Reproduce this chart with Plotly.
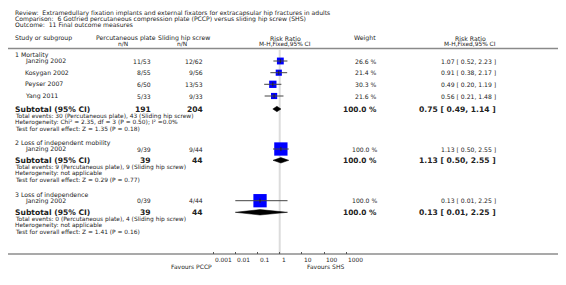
import math
import plotly.graph_objects as go

W, H = 566, 285

# ---------------- data ----------------
title_lines = [
    "Review:  Extramedullary fixation implants and external fixators for extracapsular hip fractures in adults",
    "Comparison:  6 Gotfried percutaneous compression plate (PCCP) versus sliding hip screw (SHS)",
    "Outcome:  11 Final outcome measures",
]
groups = ["1 Mortality", "2 Loss of independent mobility", "3 Loss of independence"]
studies = [
    ["Janzing 2002", "Kosygan 2002", "Peyser 2007", "Yang 2011"],
    ["Janzing 2002"],
    ["Janzing 2002"],
]
pccp_nN = [["11/53", "8/55", "6/50", "5/33"], ["9/39"], ["0/39"]]
shs_nN = [["12/62", "9/56", "13/53", "9/33"], ["9/44"], ["4/44"]]
weights = [[26.6, 21.4, 30.3, 21.6], [100.0], [100.0]]
rr = [[1.07, 0.91, 0.49, 0.56], [1.13], [0.13]]
rr_lo = [[0.52, 0.38, 0.20, 0.21], [0.50], [0.01]]
rr_hi = [[2.23, 2.17, 1.19, 1.48], [2.55], [2.25]]

sub_pccp_N = [191, 39, 39]
sub_shs_N = [204, 44, 44]
sub_rr = [0.75, 1.13, 0.13]
sub_lo = [0.49, 0.50, 0.01]
sub_hi = [1.14, 2.55, 2.25]
sub_events = [
    "Total events: 30 (Percutaneous plate), 43 (Sliding hip screw)",
    "Total events: 9 (Percutaneous plate), 9 (Sliding hip screw)",
    "Total events: 0 (Percutaneous plate), 4 (Sliding hip screw)",
]
sub_het = [
    "Heterogeneity: Chi² = 2.35, df = 3 (P = 0.50); I² =0.0%",
    "Heterogeneity: not applicable",
    "Heterogeneity: not applicable",
]
sub_test = [
    "Test for overall effect: Z = 1.35 (P = 0.18)",
    "Test for overall effect: Z = 0.29 (P = 0.77)",
    "Test for overall effect: Z = 1.41 (P = 0.16)",
]
tick_vals = [0.001, 0.01, 0.1, 1, 10, 100, 1000]
tick_text = ["0.001", "0.01", "0.1", "1", "10", "100", "1000"]
favours_left = "Favours PCCP"
favours_right = "Favours SHS"

# ---------------- layout constants (page pixels) ----------------
OFF = 8             # page body margin compensation
FONT = "DejaVu Sans"
TXT = "#222222"
X0 = 279.7          # page pixel of RR = 1
DEC = 22.2          # pixels per decade
AX_L, AX_R = 150, 420
AX_Y = 254
x_range = [(AX_L - X0) / DEC, (AX_R - X0) / DEC]

group_y = [54.5, 142.5, 194.5]
study_y = [[61, 72.7, 84.3, 96], [149], [200.7]]
subtot_y = [109, 160.3, 212.3]
ROWSTEP = 6.5

SMALL = 6.1
fig = go.Figure()
ann = []


def px(x):
    return (x - OFF) / W


def T(x, y, text, size=6.3, anchor="left", bold=False, color=TXT, on_axis=False):
    ann.append(dict(
        x=math.log10(x) if on_axis else px(x), y=y,
        xref="x" if on_axis else "paper", yref="y",
        text=("<b>%s</b>" % text) if bold else text,
        showarrow=False, xanchor=anchor, yanchor="middle",
        font=dict(family=FONT, size=size, color=color),
    ))


# titles
for i, t in enumerate(title_lines):
    T(13, 12.8 + 6 * i, t, size=6.1)

# header
T(13, 38, "Study or subgroup", size=6.2)
T(126, 38, "Percutaneous plate", size=6.2, anchor="center")
T(183.5, 38, "Sliding hip screw", size=6.2, anchor="center")
T(123, 44, "n/N", size=5.9, anchor="center")
T(182, 44, "n/N", size=5.9, anchor="center")
T(285, 38, "Risk Ratio", size=6.2, anchor="center")
T(285, 44, "M-H,Fixed,95% CI", size=5.9, anchor="center")
T(352, 38, "Weight", size=6.2)
T(470, 38, "Risk Ratio", size=6.2, anchor="center")
T(470, 44, "M-H,Fixed,95% CI", size=5.9, anchor="center")

shapes = [
    dict(type="line", xref="paper", yref="y", x0=px(4), x1=px(562), y0=48.5, y1=48.5,
         line=dict(color="#8a8a8a", width=1.6)),
    dict(type="line", xref="x", yref="y", x0=1, x1=1, y0=50, y1=AX_Y,
         line=dict(color="#dcdcdc", width=2), layer="below"),
    dict(type="line", xref="paper", yref="y", x0=px(4), x1=px(562), y0=AX_Y, y1=AX_Y,
         line=dict(color="#555555", width=1.2)),
]

for g in range(len(groups)):
    T(13, group_y[g], groups[g], size=6.2)
    for s in range(len(studies[g])):
        y = study_y[g][s]
        T(23, y, studies[g][s], size=6.2)
        T(153, y, pccp_nN[g][s], size=SMALL, anchor="right")
        T(205, y, shs_nN[g][s], size=SMALL, anchor="right")
        T(379, y, "%.1f %%" % weights[g][s], size=SMALL, anchor="right")
        T(498, y, "%.2f [ %.2f, %.2f ]" % (rr[g][s], rr_lo[g][s], rr_hi[g][s]),
          size=SMALL, anchor="right")
        fig.add_trace(go.Scatter(
            x=[rr[g][s]], y=[y], mode="markers",
            marker=dict(symbol="square", color="#0000ff",
                        size=13.3 * math.sqrt(weights[g][s] / 100.0), line=dict(width=0)),
            hoverinfo="skip", showlegend=False))
        fig.add_trace(go.Scatter(
            x=[rr_lo[g][s], rr_hi[g][s]], y=[y, y], mode="lines",
            line=dict(color="#444444", width=1), hoverinfo="skip", showlegend=False))
        fig.add_trace(go.Scatter(
            x=[rr[g][s]], y=[y], mode="markers",
            marker=dict(symbol="line-ns", size=3, line=dict(color="#222222", width=1)),
            hoverinfo="skip", showlegend=False))
    ys = subtot_y[g]
    T(13, ys, "Subtotal (95% CI)", size=7.6, bold=True)
    T(153, ys, str(sub_pccp_N[g]), size=7.6, anchor="right", bold=True)
    T(205, ys, str(sub_shs_N[g]), size=7.6, anchor="right", bold=True)
    T(379, ys, "100.0 %", size=7.4, anchor="right", bold=True)
    T(498, ys, "%.2f [ %.2f, %.2f ]" % (sub_rr[g], sub_lo[g], sub_hi[g]), size=7.6,
      anchor="right", bold=True)
    T(13, ys + 7, sub_events[g], size=5.9)
    T(13, ys + 7 + ROWSTEP, sub_het[g], size=5.9)
    T(13, ys + 7 + 2 * ROWSTEP, sub_test[g], size=5.9)
    h = 2.7
    fig.add_trace(go.Scatter(
        x=[sub_lo[g], sub_rr[g], sub_hi[g], sub_rr[g], sub_lo[g]],
        y=[ys, ys - h, ys, ys + h, ys], mode="lines", fill="toself",
        fillcolor="#000000", line=dict(color="#000000", width=0.5),
        hoverinfo="skip", showlegend=False))

# tick labels (left-aligned at tick)
for v, t in zip(tick_vals, tick_text):
    T(v, 259.5, t, size=5.9, on_axis=True)
T(191, 266, favours_left, size=6.0, anchor="center")
T(325.5, 266, favours_right, size=6.0, anchor="center")

fig.update_layout(
    width=W, height=H, margin=dict(l=0, r=0, t=0, b=0),
    paper_bgcolor="white", plot_bgcolor="white",
    annotations=ann, shapes=shapes, showlegend=False,
    xaxis=dict(type="log", range=x_range, domain=[px(AX_L), px(AX_R)],
               anchor="free", position=(H - (AX_Y - OFF)) / H,
               tickvals=tick_vals, showticklabels=False, ticks="inside", ticklen=2,
               tickcolor="#555555", showgrid=False, zeroline=False, showline=False,
               fixedrange=True),
    yaxis=dict(range=[H + OFF, OFF], domain=[0, 1], visible=False, showgrid=False,
               zeroline=False, fixedrange=True),
)

fig.write_html("out.html")
